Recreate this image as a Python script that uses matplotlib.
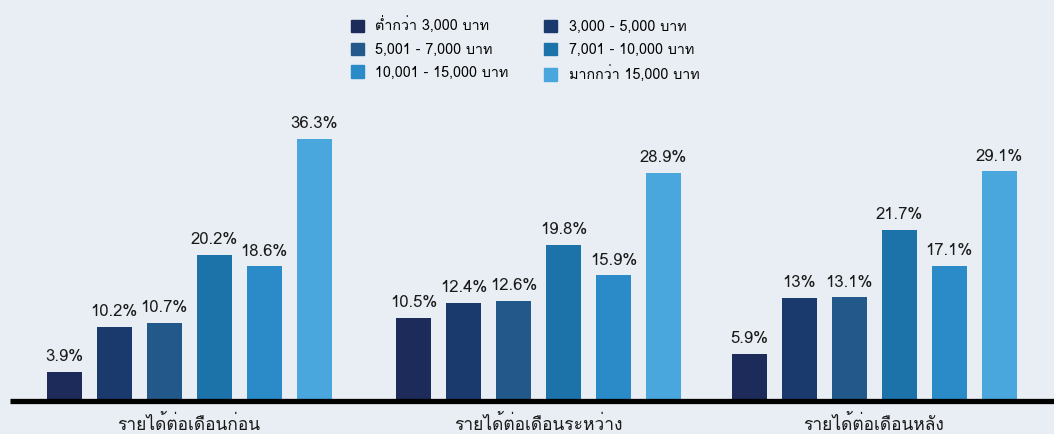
import matplotlib
matplotlib.use("Agg")
import matplotlib.pyplot as plt
from matplotlib import font_manager
from matplotlib.ft2font import FT2Font
from matplotlib.patches import Patch
from matplotlib.lines import Line2D
import numpy as np

# ---- data ----
groups = ["รายได้ต่อเดือนก่อน", "รายได้ต่อเดือนระหว่าง", "รายได้ต่อเดือนหลัง"]
series_names = ["ต่ำกว่า 3,000 บาท", "3,000 - 5,000 บาท", "5,001 - 7,000 บาท",
                "7,001 - 10,000 บาท", "10,001 - 15,000 บาท", "มากกว่า 15,000 บาท"]
below_3000 = [3.9, 10.5, 5.9]
r3000_5000 = [10.2, 12.4, 13.0]
r5001_7000 = [10.7, 12.6, 13.1]
r7001_10000 = [20.2, 19.8, 21.7]
r10001_15000 = [18.6, 15.9, 17.1]
above_15000 = [36.3, 28.9, 29.1]
series_values = [below_3000, r3000_5000, r5001_7000, r7001_10000, r10001_15000, above_15000]
colors = ["#1d2b5b", "#1a3a6e", "#23598a", "#1b73a9", "#2b8bc9", "#49a7de"]

# ---- find a font with Thai glyphs ----
thai_family = None
for fe in font_manager.fontManager.ttflist:
    try:
        cmap = FT2Font(fe.fname).get_charmap()
        if 0x0E32 in cmap and 0x0E01 in cmap:
            thai_family = fe.name
            break
    except Exception:
        pass
families = ([thai_family] if thai_family else []) + ["DejaVu Sans"]
plt.rcParams["font.family"] = families

W, H = 1054, 434
bg = "#e8eef3"
fig = plt.figure(figsize=(W / 100, H / 100), dpi=100, facecolor=bg)

# panel layout (pixels): left edge, right edge, group centre, y-scale top
panels = [(10, 363, 189, 41.7), (363, 706, 538.5, 38.2), (706, 1054, 874, 38.2)]
base_px = 400
top_px = 100
step_px = 50.0

for g, (lft, rgt, ctr, ytop) in enumerate(panels):
    ax = fig.add_axes([lft / W, (H - base_px) / H, (rgt - lft) / W, (base_px - top_px) / H])
    ax.patch.set_alpha(0)
    for i, (vals, col) in enumerate(zip(series_values, colors)):
        xp = i - 2.5
        v = vals[g]
        ax.bar(xp, v, width=0.7, color=col)
        ax.text(xp, v + ytop * 0.022, f"{v:g}%", ha="center", va="bottom",
                fontsize=12, color="#1a1a1a")
    ax.set_xlim((lft - ctr) / step_px, (rgt - ctr) / step_px)
    ax.set_ylim(0, ytop)
    for s in ["top", "right", "left", "bottom"]:
        ax.spines[s].set_visible(False)
    ax.set_yticks([])
    ax.set_xticks([0])
    ax.set_xticklabels([groups[g]], fontsize=12.5, color="#1a1a1a")
    ax.tick_params(axis="x", length=0, pad=11)

# thick baseline across the whole chart
fig.add_artist(Line2D([10 / W, 1.0], [(H - base_px - 0.5) / H] * 2,
                      transform=fig.transFigure, color="black", linewidth=3.8,
                      solid_capstyle="butt"))

handles = [Patch(color=c) for c in colors]
order = [0, 2, 4, 1, 3, 5]
fig.legend([handles[k] for k in order], [series_names[k] for k in order],
           ncol=2, loc="upper left", bbox_to_anchor=(338 / W, 1 - 4 / H),
           frameon=False, fontsize=10.3, handlelength=0.9, handleheight=1.0,
           handletextpad=0.8, columnspacing=2.5, labelspacing=0.6)

fig.savefig("out.png", dpi=100, facecolor=bg)
